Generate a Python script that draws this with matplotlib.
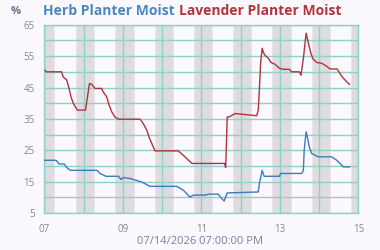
import matplotlib
matplotlib.use("Agg")
import matplotlib.pyplot as plt

# days since 07 00:00
herb_t = [0.00, 0.30, 0.38, 0.51, 0.57, 0.67, 1.34, 1.42, 1.57, 1.89, 1.95, 2.01,
          2.18, 2.48, 2.69, 3.37, 3.54, 3.71, 3.80, 4.10, 4.18, 4.43, 4.52, 4.58,
          4.66, 5.45, 5.48, 5.55, 5.60, 5.99, 6.02, 6.56, 6.60, 6.62, 6.67, 6.70,
          6.75, 6.81, 6.98, 7.32, 7.45, 7.53, 7.62, 7.78]
herb_v = [21.8, 21.8, 20.6, 20.6, 19.5, 18.6, 18.6, 17.6, 16.7, 16.7, 15.7, 16.3,
          16.0, 14.9, 13.5, 13.5, 12.3, 10.1, 10.7, 10.7, 11.0, 11.0, 9.6, 8.8,
          11.4, 11.7, 14.4, 18.6, 16.7, 16.7, 17.6, 17.6, 18.6, 25.0, 30.9, 29.3,
          26.1, 24.0, 22.9, 22.9, 21.8, 20.8, 19.7, 19.7]

lav_t = [0.02, 0.04, 0.44, 0.48, 0.57, 0.63, 0.68, 0.74, 0.84, 1.05, 1.10, 1.15,
         1.21, 1.29, 1.46, 1.50, 1.59, 1.65, 1.72, 1.80, 1.89, 2.44, 2.52, 2.61,
         2.68, 2.74, 2.82, 3.41, 3.54, 3.76, 4.59, 4.62, 4.66, 4.71, 4.86, 5.41,
         5.45, 5.48, 5.51, 5.55, 5.58, 5.62, 5.71, 5.77, 5.88, 5.99, 6.09, 6.24,
         6.30, 6.50, 6.54, 6.60, 6.67, 6.70, 6.74, 6.79, 6.85, 6.94, 7.07, 7.19,
         7.28, 7.46, 7.53, 7.60, 7.66, 7.77]
lav_v = [50.5, 50.0, 50.0, 48.4, 47.4, 44.7, 42.0, 39.9, 37.8, 37.8, 42.0, 46.3,
         46.0, 44.7, 44.7, 43.6, 42.0, 39.4, 37.2, 35.6, 34.9, 34.9, 33.5, 31.4,
         28.8, 27.1, 24.8, 24.8, 23.4, 20.8, 20.8, 19.5, 35.6, 35.6, 36.7, 36.0,
         37.8, 44.7, 52.7, 57.5, 56.2, 55.3, 54.3, 53.0, 52.4, 51.1, 50.8, 50.8,
         50.0, 50.0, 48.9, 54.3, 62.3, 60.7, 58.5, 55.9, 54.0, 53.0, 52.7, 51.8,
         50.9, 50.9, 49.5, 48.2, 47.4, 46.0]

night_start = [0.0, 0.835, 1.835, 2.84, 3.835, 4.835, 5.835, 6.838, 7.832]
night_end = [0.255, 1.274, 2.275, 3.271, 4.278, 5.26, 6.278, 7.279, 8.0]

x_ticks = [0, 2, 4, 6, 8]
x_labels = ["07", "09", "11", "13", "15"]
y_ticks = [5, 15, 25, 35, 45, 55, 65]

bg = "#fbf9fe"
grid_c = "#8fd0ca"
plt.rcParams["font.family"] = ["Open Sans", "DejaVu Sans"]

fig = plt.figure(figsize=(3.8, 2.5), dpi=100, facecolor=bg)
ax = fig.add_axes([0.1166, 0.148, 0.8264, 0.753], facecolor=bg)

for s, e in zip(night_start, night_end):
    ax.axvspan(s - 0.03, e + 0.03, color="#ebe3ee", lw=0, zorder=0)
    ax.axvspan(s, e, color="#dedcde", lw=0, zorder=0.5)

ax.set_xlim(0, 8)
ax.set_ylim(5, 65)
ax.set_xticks(range(9), minor=False)
ax.set_xticks(x_ticks)
ax.set_xticklabels(x_labels)
ax.set_xticks(range(9), minor=True)
ax.set_yticks(y_ticks)
ax.set_yticks(range(5, 66, 5), minor=True)
ax.grid(which="both", color=grid_c, lw=1.0, zorder=1)
ax.set_axisbelow(True)
for sp in ax.spines.values():
    sp.set_color(grid_c)
    sp.set_linewidth(1.0)
ax.tick_params(which="both", length=0, labelsize=7, colors="#888888")
ax.tick_params(axis="x", pad=8)
ax.tick_params(axis="y", pad=7)

ax.plot(herb_t, herb_v, color="#3a7cbd", lw=1.0, zorder=3)
ax.plot(lav_t, lav_v, color="#b2323a", lw=1.0, zorder=3)

fig.text(0.027, 0.955, "%", color="#6e6c98", fontsize=8, fontweight="bold", va="center")
t1 = fig.text(0.113, 0.955, "Herb Planter Moist", color="#4a87c0", fontsize=10,
              fontweight="bold", va="center")
fig.canvas.draw()
bb = t1.get_window_extent()
x2 = bb.x1 / fig.bbox.width + 0.012
fig.text(x2, 0.955, "Lavender Planter Moist", color="#b5343b", fontsize=10,
         fontweight="bold", va="center")
fig.text(0.527, 0.035, "07/14/2026 07:00:00 PM", color="#7d7aac", fontsize=8,
         ha="center", va="center")

fig.savefig("out.png", dpi=100, facecolor=bg)
